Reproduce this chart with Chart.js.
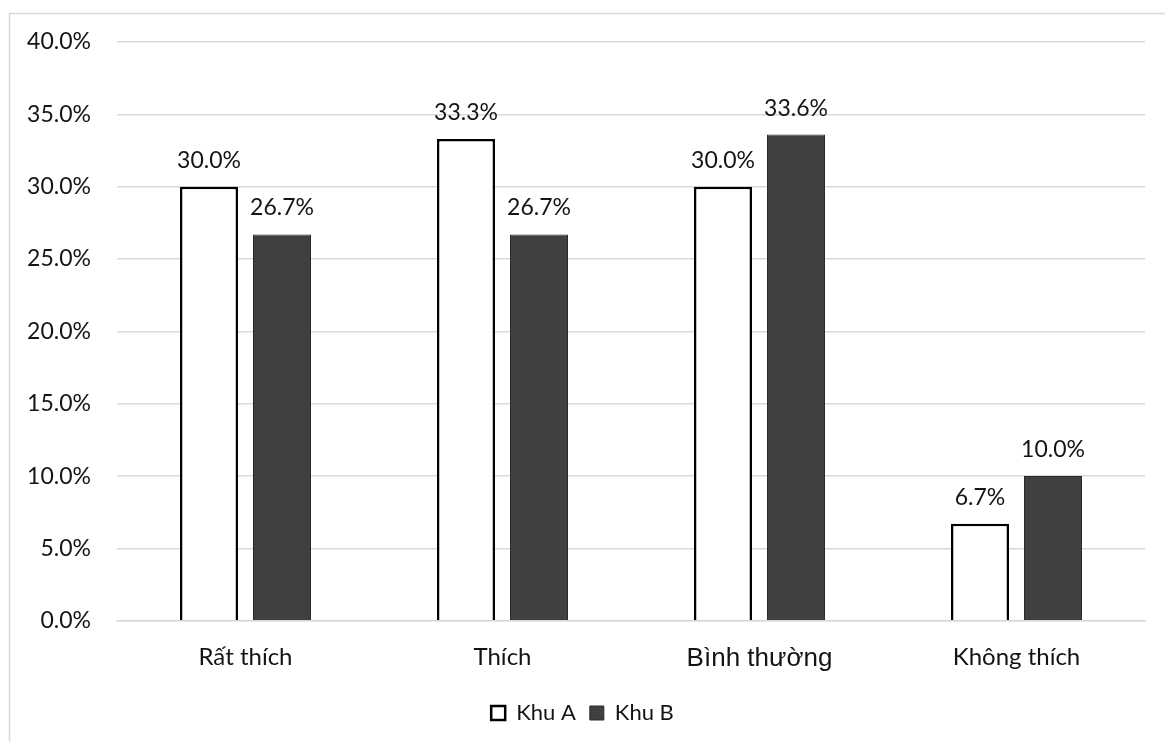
<!DOCTYPE html>
<html>
<head>
<meta charset="utf-8">
<script src="https://cdn.jsdelivr.net/npm/chart.js@4/dist/chart.umd.min.js"></script>
<style>
  html, body { margin: 0; padding: 0; background: #ffffff; }
  #wrap { position: relative; width: 1165px; height: 742px; }
</style>
</head>
<body>
<div id="wrap"><canvas id="c" width="1165" height="742"></canvas></div>
<script>
// Survey categories and the share of answers in each zone (%)
const categories = ['Rất thích', 'Thích', 'Bình thường', 'Không thích'];
const khuA = [30.0, 33.3, 30.0, 6.7];
const khuB = [26.7, 26.7, 33.6, 10.0];
const seriesNames = ['Khu A', 'Khu B'];
const yTicks = [0, 5, 10, 15, 20, 25, 30, 35, 40];

const FONT = 'Lato, "Open Sans", sans-serif';
const TEXT = '#141414';

// Thin frame around the whole chart
const framePlugin = {
  id: 'frame',
  beforeDraw(chart) {
    const ctx = chart.ctx;
    ctx.save();
    ctx.fillStyle = '#ffffff';
    ctx.fillRect(0, 0, chart.width, chart.height);
    ctx.strokeStyle = '#d9d9d9';
    ctx.lineWidth = 1.5;
    ctx.beginPath();
    ctx.moveTo(9.5, chart.height);
    ctx.lineTo(9.5, 13.5);
    ctx.lineTo(chart.width, 13.5);
    ctx.stroke();
    ctx.restore();
  }
};

// Percentage labels above each bar
const valueLabels = {
  id: 'valueLabels',
  afterDatasetsDraw(chart) {
    const ctx = chart.ctx;
    ctx.save();
    ctx.font = '23px ' + FONT;
    ctx.fillStyle = TEXT;
    ctx.textAlign = 'center';
    ctx.textBaseline = 'alphabetic';
    chart.data.datasets.forEach((ds, di) => {
      chart.getDatasetMeta(di).data.forEach((bar, i) => {
        ctx.fillText(ds.data[i].toFixed(1) + '%', bar.x, bar.y - 19);
      });
    });
    ctx.restore();
  }
};

new Chart(document.getElementById('c'), {
  type: 'bar',
  data: {
    labels: categories,
    datasets: [
      {
        label: seriesNames[0],
        data: khuA,
        backgroundColor: '#ffffff',
        borderColor: '#000000',
        borderWidth: 2.5,
        borderSkipped: 'bottom'
      },
      {
        label: seriesNames[1],
        data: khuB,
        backgroundColor: '#404040',
        borderColor: '#2a2a2a',
        borderWidth: 1,
        borderSkipped: 'bottom'
      }
    ]
  },
  options: {
    responsive: false,
    animation: false,
    devicePixelRatio: 1,
    categoryPercentage: 0.568,
    barPercentage: 0.795,
    layout: { padding: { left: 20, right: 20, top: 42, bottom: 8 } },
    plugins: {
      legend: {
        position: 'bottom',
        labels: {
          color: TEXT,
          font: { family: FONT, size: 22 },
          boxWidth: 14,
          boxHeight: 14,
          padding: 14
        }
      },
      tooltip: { enabled: false }
    },
    scales: {
      x: {
        grid: { display: false },
        border: { color: '#d9d9d9', width: 1.5 },
        ticks: {
          color: TEXT,
          padding: 14,
          font: (c) => (c.index === 2
            ? { family: '"Liberation Sans", Arial, sans-serif', size: 26 }
            : { family: FONT, size: 24 })
        }
      },
      y: {
        min: 0,
        max: 40,
        afterBuildTicks(scale) {
          scale.ticks = yTicks.map(v => ({ value: v }));
        },
        afterFit(scale) { scale.width = 97; },
        grid: { color: '#d9d9d9', lineWidth: 1.5, drawTicks: false },
        border: { display: false },
        ticks: {
          color: TEXT,
          padding: 26,
          font: { family: FONT, size: 23 },
          callback: (v) => Number(v).toFixed(1) + '%'
        }
      }
    }
  },
  plugins: [framePlugin, valueLabels]
});
</script>
</body>
</html>
